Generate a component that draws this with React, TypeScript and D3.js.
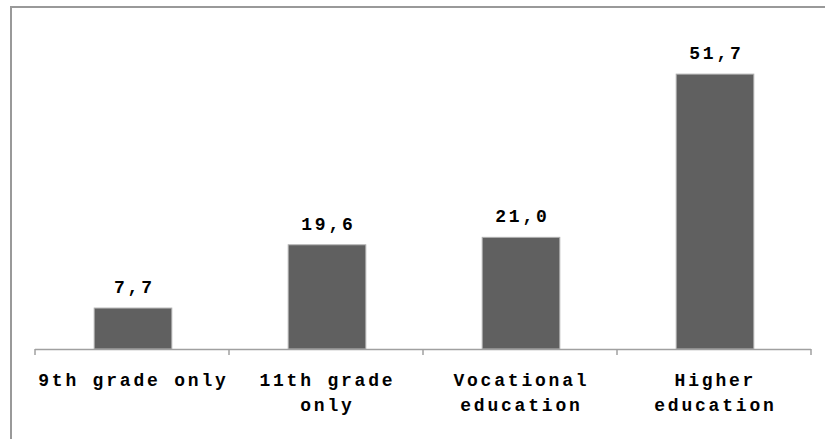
import React from "react";
import * as d3 from "d3";

// Share of respondents by highest level of education (%)
const categories = ["9th grade only", "11th grade only", "Vocational education", "Higher education"];
const values = [7.7, 19.6, 21.0, 51.7];
const yDomain = [0, 60];

const W = 825;
const H = 439;
const FONT = "'Liberation Mono', 'Courier New', monospace";

// Split a label into lines of at most maxChars characters
function wrap(label: string, maxChars: number): string[] {
  const words = label.split(" ");
  const lines: string[] = [];
  let cur = "";
  for (const w of words) {
    const next = cur ? cur + " " + w : w;
    if (next.length > maxChars && cur) {
      lines.push(cur);
      cur = w;
    } else {
      cur = next;
    }
  }
  if (cur) lines.push(cur);
  return lines;
}

const fmt = (v: number) => d3.format(".1f")(v).replace(".", ",");

export default function App() {
  const x = d3
    .scaleBand<string>()
    .domain(categories)
    .range([35, 811])
    .paddingInner(0.6)
    .paddingOuter(0.3);
  const y = d3.scaleLinear().domain(yDomain).range([349, 30]);
  const base = y(0);
  const step = x.step();
  const x0 = 35;
  const tickXs = d3.range(categories.length + 1).map((i) => x0 + i * step);
  const fontSize = 18;
  const letterSpacing = 2.8;

  return (
    <svg
      width={W}
      height={H}
      style={{ position: "absolute", left: 0, top: 0, background: "#fff" }}
    >
      <rect x={11} y={7} width={W} height={H} fill="#fff" stroke="#999" strokeWidth={2} />
      {categories.map((c, i) => (
        <rect
          key={c}
          x={(x(c) ?? 0) + 1}
          y={y(values[i])}
          width={x.bandwidth()}
          height={base - y(values[i])}
          fill="#606060"
          stroke="#b0b0b0"
          strokeWidth={1}
        />
      ))}
      <line x1={x0} x2={811} y1={base + 0.5} y2={base + 0.5} stroke="#a0a0a0" strokeWidth={1.5} />
      {tickXs.map((tx, i) => (
        <line key={i} x1={tx} x2={tx} y1={base} y2={base + 6} stroke="#a0a0a0" strokeWidth={1.5} />
      ))}
      {categories.map((c, i) => {
        const cx = (x(c) ?? 0) + x.bandwidth() / 2 + 1;
        return (
          <text
            key={"v" + c}
            x={cx + letterSpacing / 2}
            y={y(values[i]) - 15}
            textAnchor="middle"
            fontFamily={FONT}
            fontWeight="bold"
            fontSize={fontSize}
            letterSpacing={letterSpacing}
            fill="#000"
          >
            {fmt(values[i])}
          </text>
        );
      })}
      {categories.map((c) => {
        const cx = x0 + categories.indexOf(c) * step + step / 2;
        const lines = wrap(c, 14);
        return (
          <text
            key={"c" + c}
            textAnchor="middle"
            fontFamily={FONT}
            fontWeight="bold"
            fontSize={fontSize}
            letterSpacing={letterSpacing}
            fill="#000"
          >
            {lines.map((l, j) => (
              <tspan key={j} x={cx + letterSpacing / 2} y={386 + j * 25}>
                {l}
              </tspan>
            ))}
          </text>
        );
      })}
    </svg>
  );
}
